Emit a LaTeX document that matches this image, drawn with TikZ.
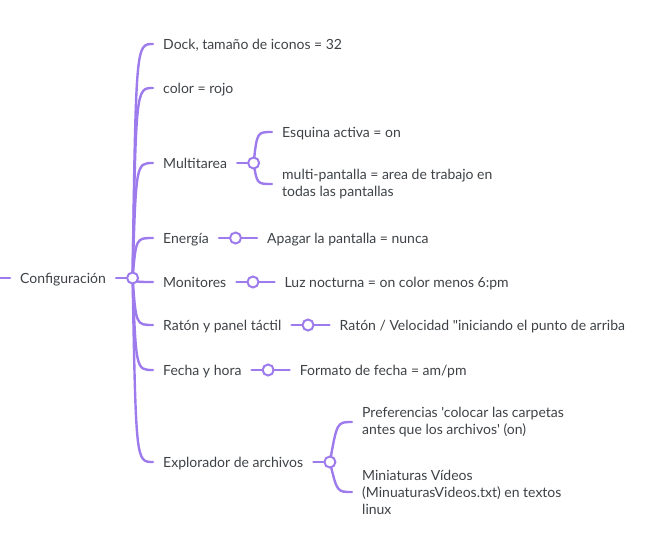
\documentclass[tikz,border=0pt]{standalone}
\usepackage{fontspec}
\setmainfont{Lato}[Ligatures=TeXOff]
\usetikzlibrary{positioning,backgrounds}
\definecolor{branchpurple}{HTML}{9E7BEC}
\definecolor{topicgray}{HTML}{3E4246}

\tikzset{
  topicbase/.style={anchor=west, inner xsep=10pt, inner ysep=0pt, text=topicgray,
    font=\fontsize{14}{17}\selectfont},
  topic/.style={topicbase, text height=10pt, text depth=0pt},
  topicml/.style={topicbase, align=left},
  knob/.style={circle, draw=branchpurple, fill=white, line width=2pt,
    minimum size=11pt, inner sep=0pt},
  branch/.style={draw=branchpurple, line width=2.4pt, line cap=round},
}

\begin{document}
\begin{tikzpicture}[x=1pt,y=-1pt]

\useasboundingbox (0,0) rectangle (647,541);

\coordinate (rootin) at (0,278);
\node[topic] (config) at (10,278) {Configuración};
\node[knob, right=10pt of config] (configk) {};

\node[topic] (dock) at (153,44) {Dock, tamaño de iconos = 32};
\node[topic] (color) at (153,88) {color = rojo};

\node[topic] (multi) at (153,163) {Multitarea};
\node[knob, right=10pt of multi] (multik) {};
\node[topic] (esquina) at (272,132) {Esquina activa = on};
\node[topicml] (pantallas) at (272,184) {multi-pantalla = area de trabajo en\\todas las pantallas};

\node[topic] (energia) at (153,238) {Energía};
\node[knob, right=10pt of energia] (energiak) {};
\node[topic, right=15pt of energiak] (apagar) {Apagar la pantalla = nunca};

\node[topic] (monitores) at (153,282) {Monitores};
\node[knob, right=10pt of monitores] (monitoresk) {};
\node[topic, right=15pt of monitoresk] (luz) {Luz nocturna = on color menos 6:pm};

\node[topic] (raton) at (153,325) {Ratón y panel táctil};
\node[knob, right=10pt of raton] (ratonk) {};
\node[topic, right=15pt of ratonk] (velocidad) {Ratón / Velocidad "iniciando el punto de arriba};

\node[topic] (fecha) at (153,370) {Fecha y hora};
\node[knob, right=10pt of fecha] (fechak) {};
\node[topic, right=15pt of fechak] (formato) {Formato de fecha = am/pm};

\node[topic] (explorador) at (153,462) {Explorador de archivos};
\node[knob, right=10pt of explorador] (explorek) {};
\node[topicml] (preferencias) at (352,422) {Preferencias 'colocar las carpetas\\antes que los archivos' (on)};
\node[topicml] (miniaturas) at (352,492) {Miniaturas Vídeos\\(MinuaturasVideos.txt) en textos\\linux};

\begin{scope}[on background layer]
% root
\draw[branch] (rootin) -- (config.west);
\draw[branch] (config.east) -- (configk);
\foreach \n/\y in {dock/44, color/88, multi/163, energia/238, monitores/282, raton/325, fecha/370, explorador/462}
  \draw[branch] (configk.center) .. controls (136,\y) .. (\n.west);

% multitarea
\draw[branch] (multi.east) -- (multik);
\draw[branch] (multik.center) .. controls (257,132) .. (esquina.west);
\draw[branch] (multik.center) .. controls (257,184) .. (pantallas.west);

% single leaves
\foreach \a/\k/\b in {energia/energiak/apagar, monitores/monitoresk/luz, raton/ratonk/velocidad, fecha/fechak/formato}
  \draw[branch] (\a.east) -- (\k.center) -- (\b.west);

% explorador
\draw[branch] (explorador.east) -- (explorek);
\draw[branch] (explorek.center) .. controls (337,422) .. (preferencias.west);
\draw[branch] (explorek.center) .. controls (337,492) .. (miniaturas.west);
\end{scope}

\end{tikzpicture}
\end{document}
